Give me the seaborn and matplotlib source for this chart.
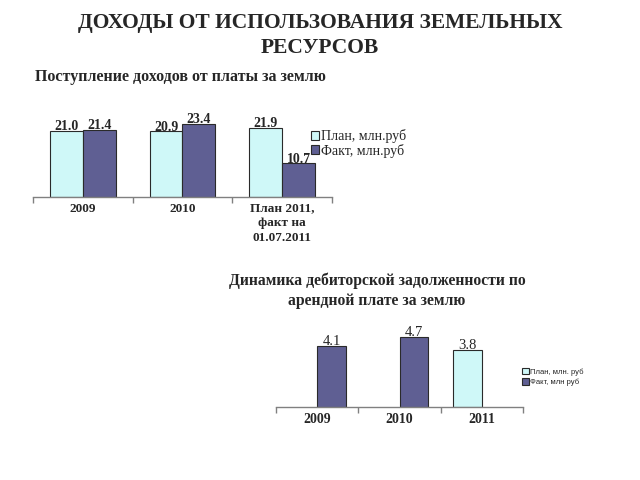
import matplotlib
matplotlib.use("Agg")
import matplotlib.pyplot as plt
import seaborn as sns
import pandas as pd
import numpy as np

# ---- data ----
cats1 = ["2009", "2010", "План 2011,\nфакт на\n01.07.2011"]
plan1 = [21.0, 20.9, 21.9]
fact1 = [21.4, 23.4, 10.7]
series1 = ["План, млн.руб", "Факт, млн.руб"]

cats2 = ["2009", "2010", "2011"]
plan2 = [np.nan, np.nan, 3.8]
fact2 = [4.1, 4.7, np.nan]
series2 = ["План, млн. руб", "Факт, млн руб"]

title = "ДОХОДЫ ОТ ИСПОЛЬЗОВАНИЯ ЗЕМЕЛЬНЫХ\nРЕСУРСОВ"
sub1 = "Поступление доходов от платы за землю"
sub2 = "Динамика дебиторской задолженности по\nарендной плате за землю"

PLAN_C = "#c8ffff"
FACT_C = "#56569c"

sns.set_theme(style="white")
plt.rcParams["font.family"] = ["Liberation Serif", "DejaVu Serif"]

fig = plt.figure(figsize=(6.4, 4.8), dpi=100)

def make_df(cats, plan, fact, series):
    return pd.DataFrame({
        "cat": cats * 2,
        "val": list(plan) + list(fact),
        "series": [series[0]] * len(cats) + [series[1]] * len(cats),
    })

def style_axes(ax, n):
    ax.set_xlim(-0.5, n - 0.5)
    for s in ["top", "right", "left"]:
        ax.spines[s].set_visible(False)
    ax.spines["bottom"].set_color("#808080")
    ax.spines["bottom"].set_linewidth(1.0)
    ax.set_yticks([])
    ax.set_xlabel("")
    ax.set_ylabel("")
    ax.set_xticks(np.arange(-0.5, n, 1.0), minor=True)
    ax.tick_params(axis="x", which="minor", length=4, direction="out",
                   color="#808080", width=1.0, bottom=True)
    ax.tick_params(axis="x", which="major", length=0, pad=4)

# ---- chart 1 ----
ax1 = fig.add_axes([33/640, 1 - 197/480, 299/640, 95/480])
df1 = make_df(cats1, plan1, fact1, series1)
sns.barplot(data=df1, x="cat", y="val", hue="series", order=cats1,
            hue_order=series1, palette=[PLAN_C, FACT_C], width=0.66,
            edgecolor="#2a2a2a", linewidth=0.8, ax=ax1, legend=True)
ax1.set_ylim(0, 30.3)
style_axes(ax1, len(cats1))
for lab in ax1.get_xticklabels():
    lab.set_fontweight("bold")
    lab.set_fontsize(9.5)
    lab.set_linespacing(1.3)
    lab.set_verticalalignment("top")
for cont in ax1.containers:
    ax1.bar_label(cont, fmt="%.1f", fontsize=10, fontweight="bold", padding=-1.5)
h, l = ax1.get_legend_handles_labels()
ax1.legend(h, l, loc="upper left", bbox_to_anchor=(311/640, 1 - 129/480),
           bbox_transform=fig.transFigure, frameon=False, fontsize=10,
           handlelength=0.6, handleheight=0.6, handletextpad=0.15,
           labelspacing=0.05, borderaxespad=0, borderpad=0)

# ---- chart 2 ----
ax2 = fig.add_axes([276/640, 1 - 407/480, 247/640, 82/480])
df2 = make_df(cats2, plan2, fact2, series2)
sns.barplot(data=df2, x="cat", y="val", hue="series", order=cats2,
            hue_order=series2, palette=[PLAN_C, FACT_C], width=0.7,
            edgecolor="#2a2a2a", linewidth=0.8, ax=ax2, legend=True)
ax2.set_ylim(0, 5.5)
style_axes(ax2, len(cats2))
for lab in ax2.get_xticklabels():
    lab.set_fontweight("bold")
    lab.set_fontsize(10)
for cont in ax2.containers:
    ax2.bar_label(cont, fmt="%.1f", fontsize=10.5, padding=-1.5)
h, l = ax2.get_legend_handles_labels()
ax2.legend(h, l, loc="upper left", bbox_to_anchor=(522/640, 1 - 368/480),
           bbox_transform=fig.transFigure, frameon=False,
           prop={"family": ["Liberation Sans", "DejaVu Sans"], "size": 5.5},
           handlelength=0.9, handleheight=0.9, handletextpad=0.15,
           labelspacing=0.35, borderaxespad=0, borderpad=0)

# ---- titles ----
fig.text(0.5, 1 - 13/480, title, ha="center", va="top", fontsize=15.5,
         fontweight="bold", linespacing=1.35)
fig.text(35/640, 1 - 77/480, sub1, ha="left", va="center", fontsize=11.5,
         fontweight="bold")
fig.text(377/640, 1 - 291/480, sub2, ha="center", va="center", fontsize=11.3,
         fontweight="bold", linespacing=1.3)

fig.savefig("out.png", dpi=100)
